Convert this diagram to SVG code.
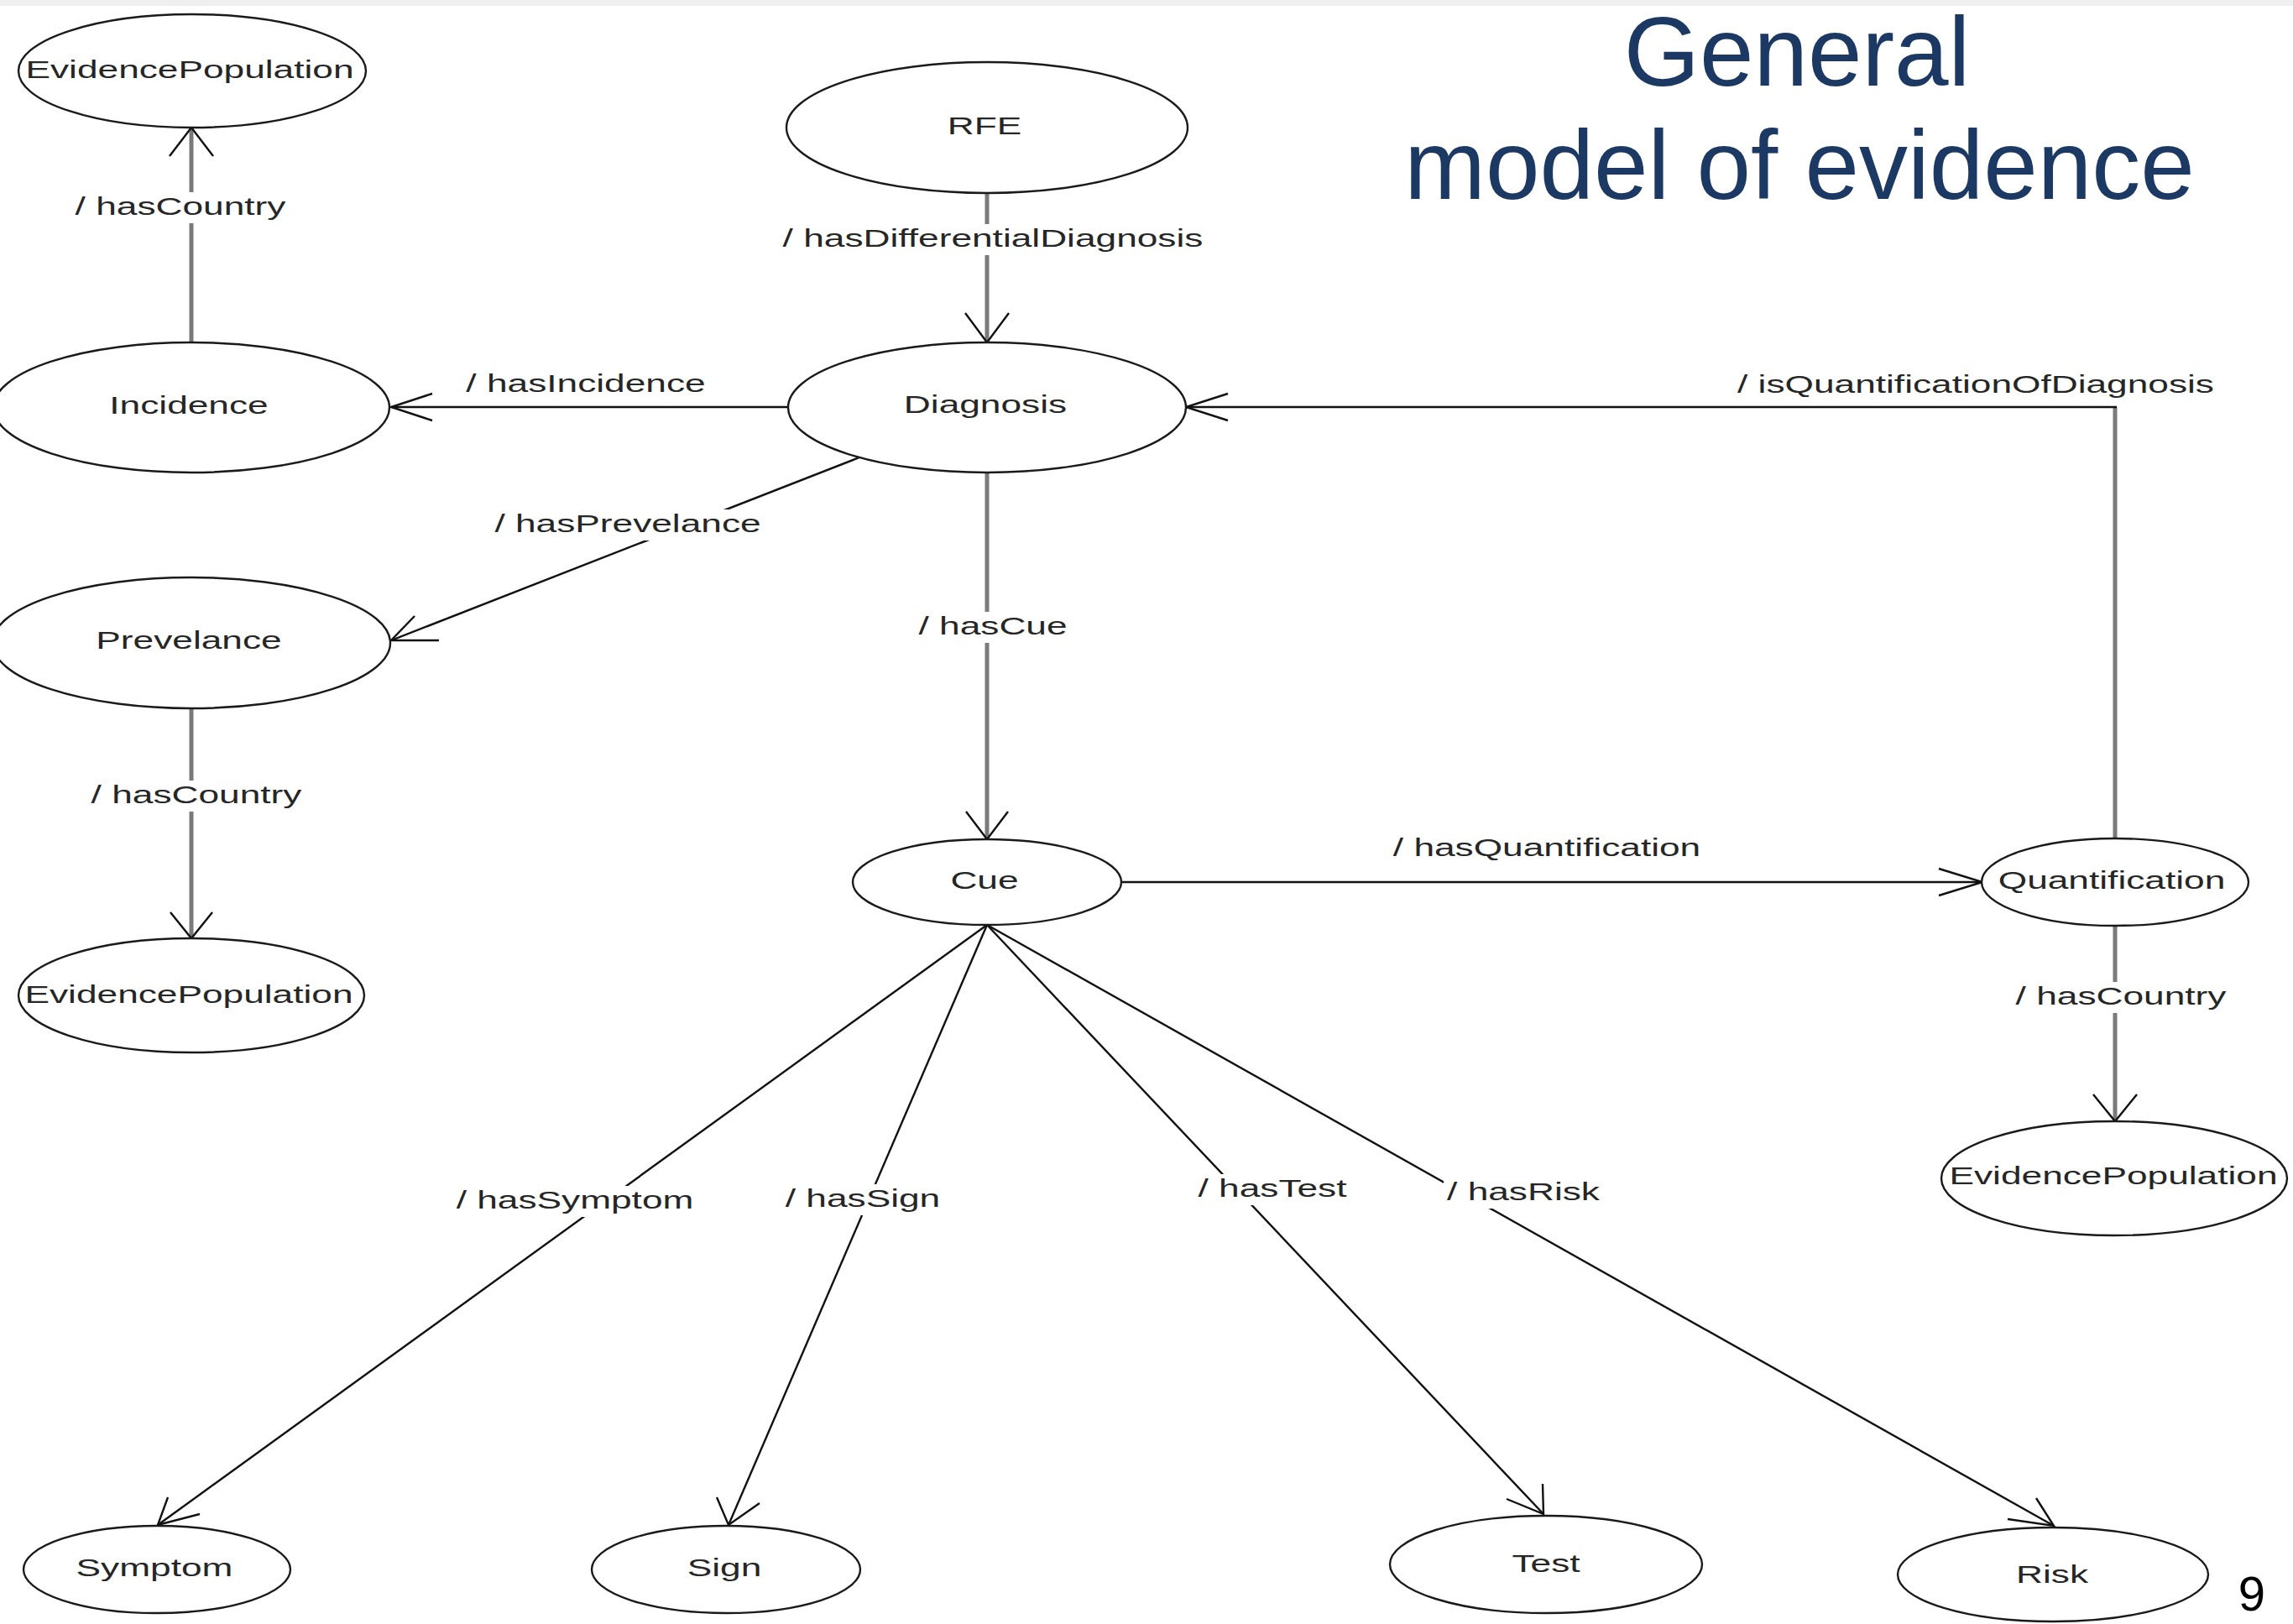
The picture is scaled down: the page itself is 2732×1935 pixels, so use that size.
<svg xmlns="http://www.w3.org/2000/svg" width="2732" height="1935" viewBox="0 0 2732 1935">
<style>
.bg{fill:#ffffff}
.strip{fill:#efefef}
.node ellipse{fill:#ffffff;stroke:#1a1a1a;stroke-width:2.4}
.lbl{font-family:"Liberation Sans",Arial,sans-serif;font-size:29.5px;fill:#262626;text-anchor:middle}
.ln{fill:none;stroke:#111111;stroke-width:2.4}
.lv{fill:none;stroke:#7a7a7a;stroke-width:5}
.ah{fill:none;stroke:#111111;stroke-width:2.4;stroke-linejoin:miter}
.gap{fill:#ffffff}
.title{font-family:"Liberation Sans",Arial,sans-serif;font-size:116px;fill:#1c3963;text-anchor:middle}
.pg{font-family:"Liberation Sans",Arial,sans-serif;font-size:58px;fill:#000000;text-anchor:middle}
</style>
<rect class="bg" x="0" y="0" width="2732" height="1935"/>
<rect class="strip" x="0" y="0" width="2732" height="7"/>

<g id="connectors">
  <g id="edge-incidence-country">
    <path class="lv" d="M228,408 V152"/>
    <path class="ah" d="M202,186 L228,152 L254,186"/>
    <rect class="gap" x="85" y="229" width="260" height="37"/>
    <text class="lbl" transform="translate(215,256) scale(1.5,1)">/ hasCountry</text>
  </g>
  <g id="edge-diffdiag">
    <path class="lv" d="M1176,230 V408"/>
    <path class="ah" d="M1150,373 L1176,408 L1202,373"/>
    <rect class="gap" x="928" y="267" width="510" height="37"/>
    <text class="lbl" transform="translate(1183,294) scale(1.5,1)">/ hasDifferentialDiagnosis</text>
  </g>
  <g id="edge-incidence">
    <path class="ln" d="M938,485 H466"/>
    <path class="ah" d="M515,469 L466,485 L515,501"/>
    <text class="lbl" transform="translate(698,467) scale(1.5,1)">/ hasIncidence</text>
  </g>
  <g id="edge-prevelance">
    <path class="ln" d="M1024,545 L466,763"/>
    <path class="ah" d="M494,734 L466,763 L523,763"/>
    <rect class="gap" x="586" y="607" width="324" height="37"/>
    <text class="lbl" transform="translate(748,634) scale(1.5,1)">/ hasPrevelance</text>
  </g>
  <g id="edge-cue">
    <path class="lv" d="M1176,563 V1000"/>
    <path class="ah" d="M1151,967 L1176,1000 L1201,967"/>
    <rect class="gap" x="1090" y="729" width="186" height="37"/>
    <text class="lbl" transform="translate(1183,756) scale(1.5,1)">/ hasCue</text>
  </g>
  <g id="edge-prevelance-country">
    <path class="lv" d="M228,845 V1118"/>
    <path class="ah" d="M203,1087 L228,1118 L253,1087"/>
    <rect class="gap" x="104" y="930" width="260" height="37"/>
    <text class="lbl" transform="translate(234,957) scale(1.5,1)">/ hasCountry</text>
  </g>
  <g id="edge-quantification">
    <path class="ln" d="M1336,1051 H2362"/>
    <path class="ah" d="M2310,1035 L2362,1051 L2310,1067"/>
    <text class="lbl" transform="translate(1843,1020) scale(1.5,1)">/ hasQuantification</text>
  </g>
  <g id="edge-isquant">
    <path class="lv" d="M2520,999 V485"/>
    <path class="ln" d="M2522,485 H1413"/>
    <path class="ah" d="M1463,469 L1413,485 L1463,501"/>
    <text class="lbl" transform="translate(2354,468) scale(1.5,1)">/ isQuantificationOfDiagnosis</text>
  </g>
  <g id="edge-quant-country">
    <path class="lv" d="M2520,1103 V1336"/>
    <path class="ah" d="M2494,1304 L2520,1336 L2546,1304"/>
    <rect class="gap" x="2397" y="1170" width="260" height="37"/>
    <text class="lbl" transform="translate(2527,1197) scale(1.5,1)">/ hasCountry</text>
  </g>
  <g id="edge-symptom">
    <path class="ln" d="M1176,1102 L188,1817"/>
    <path class="ah" d="M200,1784 L188,1817 L238,1804"/>
    <rect class="gap" x="540" y="1413" width="290" height="37"/>
    <text class="lbl" transform="translate(685,1440) scale(1.5,1)">/ hasSymptom</text>
  </g>
  <g id="edge-sign">
    <path class="ln" d="M1176,1102 L868,1817"/>
    <path class="ah" d="M854,1784 L868,1817 L905,1791"/>
    <rect class="gap" x="932" y="1411" width="192" height="37"/>
    <text class="lbl" transform="translate(1028,1438) scale(1.5,1)">/ hasSign</text>
  </g>
  <g id="edge-test">
    <path class="ln" d="M1176,1102 L1839,1804"/>
    <path class="ah" d="M1795,1786 L1839,1804 L1838,1768"/>
    <rect class="gap" x="1421" y="1399" width="190" height="37"/>
    <text class="lbl" transform="translate(1516,1426) scale(1.5,1)">/ hasTest</text>
  </g>
  <g id="edge-risk">
    <path class="ln" d="M1176,1102 L2447,1818"/>
    <path class="ah" d="M2426,1785 L2447,1818 L2392,1810"/>
    <rect class="gap" x="1720" y="1403" width="190" height="37"/>
    <text class="lbl" transform="translate(1815,1430) scale(1.5,1)">/ hasRisk</text>
  </g>
</g>

<g id="node-evidencepopulation-1" class="node">
  <ellipse cx="229" cy="84.5" rx="207" ry="67.5"/>
  <text class="lbl" transform="translate(226,93) scale(1.5,1)">EvidencePopulation</text>
</g>
<g id="node-rfe" class="node">
  <ellipse cx="1176" cy="152" rx="239" ry="78"/>
  <text class="lbl" transform="translate(1173,160) scale(1.5,1)">RFE</text>
</g>
<g id="node-incidence" class="node">
  <ellipse cx="228" cy="485.5" rx="236" ry="77.5"/>
  <text class="lbl" transform="translate(225,493) scale(1.5,1)">Incidence</text>
</g>
<g id="node-diagnosis" class="node">
  <ellipse cx="1176" cy="485.5" rx="237" ry="77.5"/>
  <text class="lbl" transform="translate(1174,492) scale(1.5,1)">Diagnosis</text>
</g>
<g id="node-prevelance" class="node">
  <ellipse cx="228" cy="766" rx="237" ry="78"/>
  <text class="lbl" transform="translate(225,773) scale(1.5,1)">Prevelance</text>
</g>
<g id="node-evidencepopulation-2" class="node">
  <ellipse cx="228" cy="1186" rx="206" ry="68"/>
  <text class="lbl" transform="translate(225,1195) scale(1.5,1)">EvidencePopulation</text>
</g>
<g id="node-cue" class="node">
  <ellipse cx="1176" cy="1051" rx="160" ry="51"/>
  <text class="lbl" transform="translate(1173,1059) scale(1.5,1)">Cue</text>
</g>
<g id="node-quantification" class="node">
  <ellipse cx="2520" cy="1051" rx="159" ry="52"/>
  <text class="lbl" transform="translate(2516,1059) scale(1.5,1)">Quantification</text>
</g>
<g id="node-evidencepopulation-3" class="node">
  <ellipse cx="2519" cy="1404" rx="206" ry="68"/>
  <text class="lbl" transform="translate(2518,1411) scale(1.5,1)">EvidencePopulation</text>
</g>
<g id="node-symptom" class="node">
  <ellipse cx="187" cy="1870" rx="159" ry="52"/>
  <text class="lbl" transform="translate(184,1878) scale(1.5,1)">Symptom</text>
</g>
<g id="node-sign" class="node">
  <ellipse cx="865" cy="1870" rx="160" ry="52"/>
  <text class="lbl" transform="translate(863,1878) scale(1.5,1)">Sign</text>
</g>
<g id="node-test" class="node">
  <ellipse cx="1842" cy="1864" rx="186" ry="58"/>
  <text class="lbl" transform="translate(1842,1873) scale(1.5,1)">Test</text>
</g>
<g id="node-risk" class="node">
  <ellipse cx="2446" cy="1876" rx="185" ry="56"/>
  <text class="lbl" transform="translate(2445,1886) scale(1.5,1)">Risk</text>
</g>

<g id="title">
  <text class="title" x="2141" y="102">General</text>
  <text class="title" x="2144" y="237">model of evidence</text>
</g>
<text class="pg" x="2683" y="1919">9</text>
</svg>
